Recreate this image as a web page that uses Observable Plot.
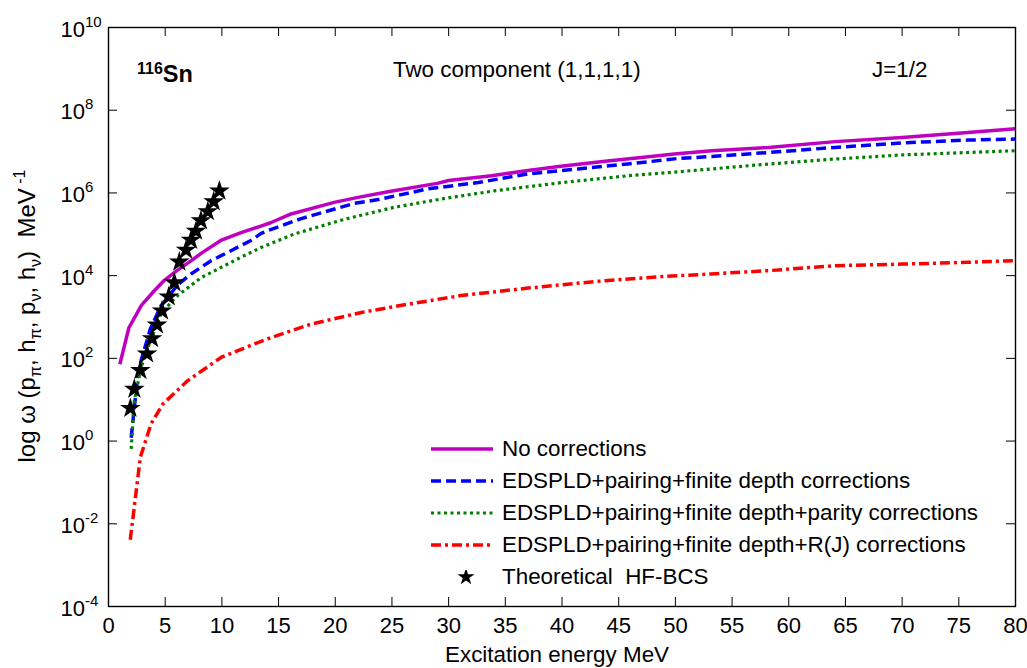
<!DOCTYPE html>
<html><head><meta charset="utf-8">
<script src="https://cdn.jsdelivr.net/npm/d3@7"></script>
<script src="https://cdn.jsdelivr.net/npm/@observablehq/plot@0.6"></script>
<style>
body{margin:0;background:#fff;font-family:"Liberation Sans",Arial,sans-serif;}
#wrap{position:relative;width:1027px;height:668px;overflow:hidden;background:#fff}
.ann{position:absolute;white-space:nowrap;color:#000;line-height:1;font-size:22.4px}
.ann sub{font-size:16px;vertical-align:-6px}
.ann sup{font-size:16px;vertical-align:10px}
</style></head><body><div id="wrap"></div>
<script>
// ---- data ----
const xTicks = [0,5,10,15,20,25,30,35,40,45,50,55,60,65,70,75,80];
const yTicks = [1e-4,1e-2,1e0,1e2,1e4,1e6,1e8,1e10];

// No corrections
const noCorrX = [1,1.8,2.9,4,4.9,6,7.3,8.2,9.9,11.7,13.5,14.3,16.1,19.9,22,24.9,29,30,33.8,37,39.9,43.8,47,49.9,53.2,58.2,64.1,70,75.8,80];
const noCorrY = [72,550,1.9e3,4.2e3,7.6e3,1.3e4,2.3e4,3.5e4,7.1e4,1.1e5,1.6e5,1.9e5,3.1e5,5.9e5,7.8e5,1.1e6,1.7e6,2.0e6,2.6e6,3.5e6,4.4e6,5.8e6,7.2e6,8.7e6,1.05e7,1.26e7,1.74e7,2.19e7,2.88e7,3.55e7];

// EDSPLD+pairing+finite depth corrections
const finDepX = [2.0,2.43,2.57,2.87,3.7,4.63,6.1,7.28,9.05,10.8,12.6,13.46,14.3,17,21.7,23.8,28.2,32.6,37,41.4,45.8,50.2,53.2,58.2,64.1,70,75.8,80];
const finDepY = [1.2,16,35,87,525,1.86e3,6.0e3,1.1e4,2.3e4,4.0e4,7.2e4,1.05e5,1.3e5,2.4e5,5.6e5,6.9e5,1.26e6,1.78e6,2.9e6,3.8e6,5.0e6,6.8e6,7.6e6,9.5e6,1.26e7,1.62e7,1.9e7,2.0e7];

// EDSPLD+pairing+finite depth+parity corrections
const parityX = [2.0,2.28,2.87,3.6,4.63,5.87,8.16,9.93,11.7,13.46,16.4,20.8,25.2,29.3,34,40,45.8,51.7,58.2,64.1,70,75.8,80];
const parityY = [0.65,9.5,60,224,1.17e3,2.95e3,8.9e3,1.58e4,2.8e4,4.8e4,1.02e5,2.3e5,4.5e5,7.1e5,1.12e6,1.78e6,2.6e6,3.5e6,5.0e6,6.6e6,8.3e6,9.5e6,1.05e7];

// EDSPLD+pairing+finite depth+R(J) corrections
const rjX = [1.92,2.81,3.75,4.8,7.0,9.93,12.6,14.3,17.9,22.3,26.7,31.1,37,42.9,48.8,53.2,58.2,64.1,70,75.8,80];
const rjY = [4.1e-3,0.41,2.6,7.9,29,105,209,316,676,1.29e3,2.1e3,3.3e3,5.0e3,7.2e3,9.5e3,1.1e4,1.32e4,1.74e4,1.9e4,2.1e4,2.3e4];

// Theoretical HF-BCS
const hfX = [1.93,2.28,2.81,3.40,3.84,4.28,4.72,5.31,5.81,6.25,6.84,7.28,7.72,8.16,8.76,9.28,9.78];
const hfY = [6.2,18,51,129,302,646,1.41e3,3.09e3,6.76e3,2.14e4,4.17e4,7.24e4,1.2e5,2.14e5,3.55e5,6.17e5,1.12e6];

const legendLabels = [
  "No corrections",
  "EDSPLD+pairing+finite depth corrections",
  "EDSPLD+pairing+finite depth+parity corrections",
  "EDSPLD+pairing+finite depth+R(J) corrections",
  "Theoretical&nbsp; HF-BCS"
];

// ---- styles ----
const seriesStyle = [
  {stroke:"#BF00BF", strokeWidth:3.5, dash:null},
  {stroke:"#0000FF", strokeWidth:3.5, dash:"10,5"},
  {stroke:"#008000", strokeWidth:3.2, dash:"3,3.5"},
  {stroke:"#FF0000", strokeWidth:3.5, dash:"10,4,3,4"}
];

const W=1027,H=668,mL=108,mR=12,mT=27,mB=62;
const fw=W-mL-mR, fh=H-mT-mB, tl=9;
const font='"Liberation Sans",Arial,sans-serif';

const series = [[noCorrX,noCorrY],[finDepX,finDepY],[parityX,parityY],[rjX,rjY]];
const lineMarks = series.map(([xs,ys],k)=>Plot.line(ys.map((v,i)=>({x:xs[i],y:v})),{
  x:"x", y:"y", stroke:seriesStyle[k].stroke, strokeWidth:seriesStyle[k].strokeWidth,
  strokeDasharray:seriesStyle[k].dash, strokeLinecap:"butt", strokeLinejoin:"round"
}));

const chart = Plot.plot({
  width:W, height:H, marginLeft:mL, marginRight:mR, marginTop:mT, marginBottom:mB,
  style:{fontFamily:font, fontSize:"22px", color:"#000", background:"#fff", overflow:"visible"},
  x:{domain:[0,80]},
  y:{type:"log", domain:[1e-4,1e10]},
  marks:[
    Plot.tickX(xTicks,{x:d=>d, insetTop:fh-tl, stroke:"#000", strokeWidth:1}),
    Plot.tickX(xTicks,{x:d=>d, insetBottom:fh-tl, stroke:"#000", strokeWidth:1}),
    Plot.tickY(yTicks,{y:d=>d, insetRight:fw-tl, stroke:"#000", strokeWidth:1}),
    Plot.tickY(yTicks,{y:d=>d, insetLeft:fw-tl, stroke:"#000", strokeWidth:1}),
    Plot.axisX(xTicks,{tickSize:0, tickPadding:11, fontSize:22, label:null}),
    Plot.axisY(yTicks,{tickSize:0, tickPadding:48, textAnchor:"start", dy:2, fontSize:22, label:null,
      tickFormat:d=>"10^"+Math.round(Math.log10(d))}),
    ...lineMarks,
    Plot.dot(hfY.map((v,i)=>({x:hfX[i],y:v})),{x:"x", y:"y", symbol:"star", r:6.5, fill:"#000", stroke:"none"}),
    Plot.frame({stroke:"#000", strokeWidth:1.4})
  ]
});

d3.select(chart).selectAll('g[aria-label="y-axis tick label"] text').each(function(){
  const [b,e] = this.textContent.split("^");
  this.textContent = "";
  d3.select(this).append("tspan").text(b);
  d3.select(this).append("tspan").attr("dy","-10").attr("font-size","15px").text(e);
});

const wrap = document.getElementById("wrap");
wrap.appendChild(chart);
chart.style.position="absolute"; chart.style.left="0"; chart.style.top="0";

function ann(html, css){
  const d=document.createElement("div");
  d.className="ann"; d.innerHTML=html; Object.assign(d.style,css);
  wrap.appendChild(d); return d;
}
ann('<b><span style="font-size:16px;vertical-align:8px">116</span><span style="font-size:23.5px">Sn</span></b>',{left:"137px",top:"61px"});
ann('Two component (1,1,1,1)',{left:"393px",top:"59px"});
ann('J=1/2',{left:"872px",top:"59px"});
ann('Excitation energy MeV',{left:"445px",top:"644px"});
ann('log ω (p<sub>π</sub>, h<sub>π</sub>, p<sub>ν</sub>, h<sub>ν</sub>)&nbsp; MeV<sup> -1</sup>',
  {left:"28px",top:"316px",fontSize:"24px",transform:"translate(-50%,-50%) rotate(-90deg)"});

// legend
const rowY=[449,481,513,545,577];
legendLabels.forEach((lab,i)=>{
  const sw=document.createElementNS("http://www.w3.org/2000/svg","svg");
  sw.setAttribute("width","64"); sw.setAttribute("height","14");
  sw.style.position="absolute"; sw.style.left="431px"; sw.style.top=(rowY[i]-7)+"px";
  if(i<4){
    const s=seriesStyle[i];
    sw.innerHTML=`<line x1="0" y1="7" x2="62" y2="7" stroke="${s.stroke}" stroke-width="${s.strokeWidth}" ${s.dash?`stroke-dasharray="${s.dash}"`:""}/>`;
  } else {
    const p=d3.symbol(d3.symbolStar,90)();
    sw.innerHTML=`<path transform="translate(35,7)" d="${p}" fill="#000"/>`;
  }
  wrap.appendChild(sw);
  ann(lab,{left:"502px",top:(rowY[i]-11)+"px"});
});
</script></body></html>
